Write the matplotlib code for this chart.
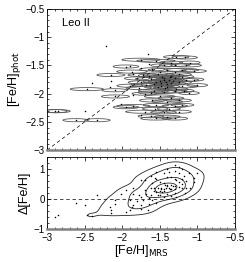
import numpy as np
import matplotlib.pyplot as plt
from matplotlib.patches import Ellipse
from matplotlib.ticker import MultipleLocator

plt.rcParams['font.family'] = ['Liberation Sans', 'DejaVu Sans']

# [Fe/H] from medium-resolution spectra, photometric [Fe/H], and MRS error
mrs = [-2.90, -2.86, -2.50, -2.62, -2.33, -2.47, -2.40, -2.21, -1.66, -2.15,
       -2.09, -2.10, -1.75, -1.55, -1.28, -1.17, -1.30, -1.15, -1.45, -1.87,
       -1.40, -1.20, -1.05, -1.60, -1.95, -1.72, -1.52, -1.35, -1.25, -1.80,
       -1.62, -1.45, -1.38, -1.30, -1.15, -1.55, -1.42, -1.35, -1.25, -1.68,
       -1.48, -1.40, -1.20, -1.90, -1.78, -1.58, -1.45, -1.11, -1.30, -1.70,
       -1.85, -1.50, -1.35, -1.60, -1.40, -1.25, -1.85, -1.95, -1.55, -1.30,
       -1.70, -1.45, -1.25, -1.55, -1.40, -1.30, -2.02, -1.75, -1.50, -1.44,
       -1.40, -1.47, -1.52, -1.36, -1.43, -1.58, -1.33, -1.48, -1.62, -1.20,
       -1.65, -1.75, -1.28, -1.18, -1.00, -1.05, -2.16, -2.15, -1.89, -1.85,
       -1.75, -1.65, -1.35, -1.10, -1.56, -1.38, -1.62, -1.20, -1.50, -1.30]
phot = [-2.31, -2.31, -2.30, -2.47, -2.47, -1.92, -1.82, -1.16, -1.29, -1.67,
        -2.05, -1.94, -1.40, -1.42, -1.35, -1.36, -1.49, -1.50, -1.50, -1.61,
        -1.58, -1.58, -1.60, -1.57, -1.52, -1.67, -1.66, -1.68, -1.66, -1.73,
        -1.74, -1.73, -1.75, -1.72, -1.76, -1.79, -1.80, -1.82, -1.80, -1.84,
        -1.86, -1.88, -1.87, -1.86, -1.90, -1.95, -1.97, -1.99, -1.96, -2.00,
        -2.03, -2.05, -2.08, -2.12, -2.14, -2.12, -2.22, -2.24, -2.20, -2.22,
        -2.32, -2.33, -2.32, -2.44, -2.41, -2.44, -2.18, -2.38, -1.78, -1.76,
        -1.83, -1.70, -1.88, -1.70, -1.90, -1.83, -1.77, -1.82, -1.98, -1.70,
        -1.68, -1.80, -1.92, -1.95, -1.85, -1.75, -1.89, -1.77, -1.51, -1.65,
        -1.55, -1.48, -1.45, -1.45, -2.27, -2.27, -2.40, -2.20, -1.62, -1.62]
err = [0.10, 0.10, 0.00, 0.10, 0.10, 0.13, 0.00, 0.00, 0.00, 0.11,
       0.11, 0.10, 0.15, 0.15, 0.10, 0.10, 0.12, 0.12, 0.10, 0.12,
       0.15, 0.13, 0.10, 0.10, 0.10, 0.12, 0.12, 0.10, 0.10, 0.10,
       0.12, 0.10, 0.10, 0.12, 0.10, 0.10, 0.10, 0.12, 0.10, 0.12,
       0.10, 0.10, 0.12, 0.10, 0.10, 0.12, 0.10, 0.08, 0.10, 0.10,
       0.00, 0.12, 0.10, 0.10, 0.12, 0.10, 0.13, 0.10, 0.10, 0.10,
       0.15, 0.10, 0.10, 0.12, 0.10, 0.10, 0.00, 0.00, 0.09, 0.08,
       0.10, 0.09, 0.11, 0.08, 0.09, 0.10, 0.08, 0.00, 0.10, 0.09,
       0.08, 0.10, 0.09, 0.08, 0.08, 0.08, 0.00, 0.00, 0.00, 0.00,
       0.00, 0.00, 0.09, 0.08, 0.10, 0.09, 0.10, 0.09, 0.00, 0.00]

mrs = np.array(mrs)
phot = np.array(phot)
err = np.array(err)
delta = mrs - phot

fig = plt.figure(figsize=(2.45, 2.62), dpi=100)
ax1 = fig.add_axes([0.192, 0.427, 0.767, 0.539])
ax2 = fig.add_axes([0.192, 0.126, 0.767, 0.275])

# top: one error ellipse per star
for m, p, e in zip(mrs, phot, err):
    if e > 0:
        ax1.add_patch(Ellipse((m, p), 3.4 * e, 0.055, fill=False,
                              edgecolor='0.35', lw=0.6))
ax1.plot([-3, -0.5], [-3, -0.5], color='k', ls=(0, (5, 4)), lw=0.5)
ax1.scatter(mrs, phot, s=1.2, color='k', zorder=3, linewidths=0)
ax1.text(-2.8, -0.8, 'Leo II', fontsize=8)
ax1.set_xlim(-3, -0.5)
ax1.set_ylim(-3, -0.5)
ax1.set_ylabel('[Fe/H]$_{\\rm phot}$', fontsize=9, labelpad=2)
ax1.xaxis.set_major_locator(MultipleLocator(0.5))
ax1.xaxis.set_minor_locator(MultipleLocator(0.1))
ax1.yaxis.set_minor_locator(MultipleLocator(0.1))
ax1.set_yticks([-3, -2.5, -2, -1.5, -1, -0.5])
ax1.set_yticklabels(['−3', '−2.5', '−2', '−1.5', '−1', '−0.5'])
ax1.tick_params(labelbottom=False)

# bottom: density contours of the difference
bx = np.linspace(-3, -0.5, 300)
by = np.linspace(-1, 1.4, 300)
BX, BY = np.meshgrid(bx, by)
D = np.zeros_like(BX)
for m, d in zip(mrs, delta):
    D += np.exp(-0.5 * (((BX - m) / 0.13) ** 2 + ((BY - d) / 0.15) ** 2))
D /= D.max()
ax2.contour(BX, BY, D, levels=[0.1, 0.28, 0.52, 0.8], colors='0.15', linewidths=0.6)
ax2.axhline(0, color='k', ls=(0, (5, 4)), lw=0.5)
ax2.scatter(mrs, delta, s=1.2, color='k', zorder=3, linewidths=0)
ax2.set_xlim(-3, -0.5)
ax2.set_ylim(-1, 1.4)
ax2.set_xlabel('[Fe/H]$_{\\rm MRS}$', fontsize=9, labelpad=0)
ax2.set_ylabel('Δ[Fe/H]', fontsize=9, labelpad=2)
ax2.xaxis.set_minor_locator(MultipleLocator(0.1))
ax2.yaxis.set_minor_locator(MultipleLocator(0.2))
ax2.set_xticks([-3, -2.5, -2, -1.5, -1, -0.5])
ax2.set_xticklabels(['−3', '−2.5', '−2', '−1.5', '−1', '−0.5'])
ax2.set_yticks([-1, 0, 1])
ax2.set_yticklabels(['−1', '0', '1'])

for ax in (ax1, ax2):
    ax.tick_params(which='both', direction='in', top=True, right=True,
                   labelsize=7, pad=1.5, width=0.5)
    ax.tick_params(which='major', length=3)
    ax.tick_params(which='minor', length=1.5)
    for s in ax.spines.values():
        s.set_linewidth(0.6)
    ax.spines['bottom'].set_linewidth(1.8)
    ax.spines['bottom'].set_color('0.5')
ax2.tick_params(axis='x', pad=3)

fig.savefig('out.png', dpi=100)
